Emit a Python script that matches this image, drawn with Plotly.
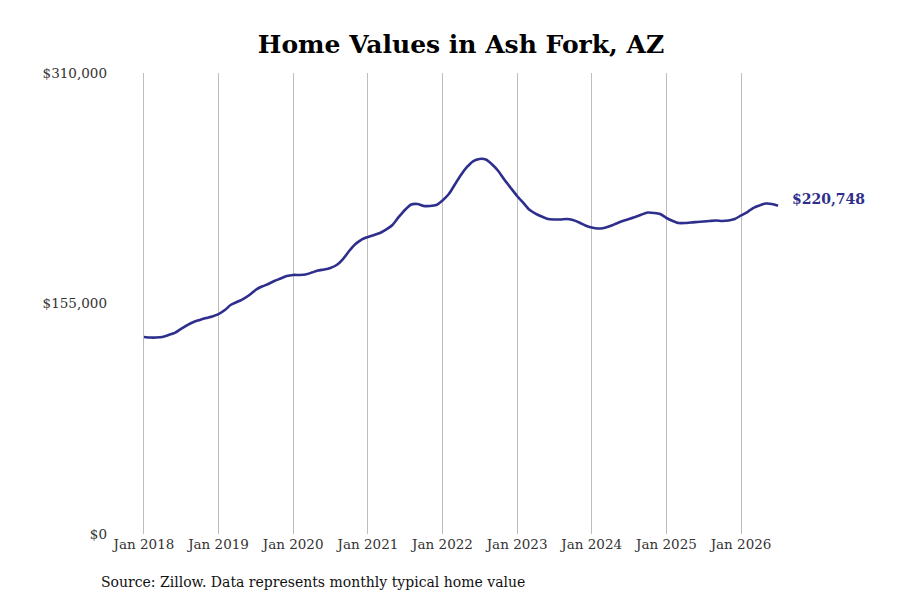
import plotly.graph_objects as go
import pandas as pd

dates = pd.date_range("2018-01-01", periods=103, freq="MS")

values_2018 = [132500, 132100, 132100, 132500, 133800, 135200, 137900, 140500, 142600, 143900, 145200, 146300]
values_2019 = [147900, 150600, 154000, 156000, 158000, 160700, 164100, 166400, 168100, 170100, 171800, 173500]
values_2020 = [174200, 174200, 174500, 175800, 177200, 177900, 178900, 180900, 184900, 190300, 195000, 198000]
values_2021 = [199700, 201100, 202400, 204800, 207800, 213200, 217900, 221600, 221900, 220600, 220600, 221200]
values_2022 = [224300, 228600, 234700, 241400, 246800, 250800, 252200, 251800, 248500, 244100, 238000, 232700]
values_2023 = [227300, 222600, 218200, 215500, 213500, 211800, 211500, 211500, 211800, 211100, 209500, 207500]
values_2024 = [206100, 205400, 205800, 207100, 208800, 210500, 211800, 213200, 214800, 216200, 215900, 215200]
values_2025 = [212500, 210500, 209100, 209100, 209500, 209800, 210100, 210500, 210800, 210500, 210800, 211800]
values_2026 = [214200, 216500, 219200, 220900, 222200, 221900, 220748]

values = (values_2018 + values_2019 + values_2020 + values_2021 + values_2022
          + values_2023 + values_2024 + values_2025 + values_2026)

tick_dates = [f"{y}-01-01" for y in range(2018, 2027)]
tick_labels = [f"Jan {y}" for y in range(2018, 2027)]
y_ticks = [0, 155000, 310000]
y_labels = ["$0", "$155,000", "$310,000"]

title_text = "Home Values in Ash Fork, AZ"
source_text = "Source: Zillow. Data represents monthly typical home value"

LINE = "#2e2e8c"
FONT = "DejaVu Serif"

ML, MR, MT, MB = 100, 38, 65, 74
W, H = 900, 600
plot_w = W - ML - MR
plot_h = H - MT - MB

fig = go.Figure()
fig.add_trace(go.Scatter(
    x=dates, y=values, mode="lines",
    line=dict(color=LINE, width=2.6, shape="spline", smoothing=0.6),
    hoverinfo="skip", showlegend=False,
))

fig.add_annotation(
    x=dates[-1], y=values[-1], xref="x", yref="y",
    text=f"<b>${values[-1]:,}</b>", showarrow=False,
    xanchor="left", yanchor="middle", xshift=12, yshift=7,
    font=dict(family=FONT, size=14, color=LINE),
)

fig.add_annotation(
    x=(91 - ML) / plot_w, y=-(574 - (MT + plot_h)) / plot_h,
    xref="paper", yref="paper",
    text=source_text, showarrow=False, xanchor="left", yanchor="middle",
    font=dict(family=FONT, size=14, color="#111111"),
)

fig.update_layout(
    width=W, height=H,
    margin=dict(l=ML, r=MR, t=MT, b=MB),
    paper_bgcolor="white", plot_bgcolor="white",
    title=dict(text=f"<b>{title_text}</b>", x=453 / W, xref="container",
               xanchor="center", y=1 - 36 / H, yref="container", yanchor="middle",
               font=dict(family=FONT, size=25, color="#000000")),
    font=dict(family=FONT, size=13.5, color="#333333"),
    xaxis=dict(
        range=["2017-07-09", "2027-09-24"],
        tickmode="array", tickvals=tick_dates, ticktext=tick_labels,
        showgrid=True, gridcolor="#bdbdbd", gridwidth=1,
        showline=False, zeroline=False, ticks="", ticklen=0,
    ),
    yaxis=dict(
        range=[0, 310000], tickmode="array", tickvals=y_ticks, ticktext=y_labels,
        showgrid=False, zeroline=False, showline=False, ticks="",
    ),
)

fig.write_html("out.html")
